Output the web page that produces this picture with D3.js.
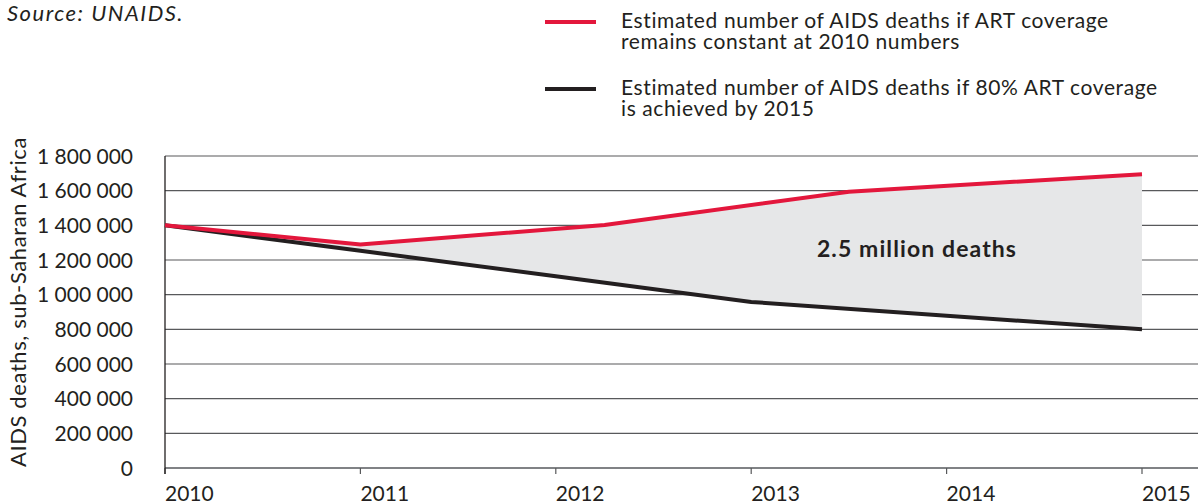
<!DOCTYPE html>
<html>
<head>
<meta charset="utf-8">
<script src="https://cdn.jsdelivr.net/npm/d3@7"></script>
<style>
  body { margin: 0; background: #fff; }
  svg text { font-family: "Lato", "Open Sans", sans-serif; fill: #231f20; }
</style>
</head>
<body>
<svg id="chart" width="1198" height="504"></svg>
<script>
// data
var blackYears = [2010, 2011, 2012, 2013, 2014, 2015]
var blackValues = [1400000, 1253000, 1106000, 958000, 879000, 800000]
var redYears = [2010, 2011, 2012.25, 2013.5, 2015]
var redValues = [1400000, 1290000, 1402000, 1594000, 1695000]
var yTicks = [0, 200000, 400000, 600000, 800000, 1000000, 1200000, 1400000, 1600000, 1800000]
var xTicks = [2010, 2011, 2012, 2013, 2014, 2015]
var legendLabels = [
    ["Estimated number of AIDS deaths if ART coverage", "remains constant at 2010 numbers"],
    ["Estimated number of AIDS deaths if 80% ART coverage", "is achieved by 2015"]
]
var legendColors = ["#e3173c", "#231f20"]

var svg = d3.select("#chart")

var x = d3.scaleLinear().domain([2010, 2015]).range([165, 1142])
var y = d3.scaleLinear().domain([0, 1800000]).range([468, 156])

var fmt = function (d) { return d3.format(",")(d).replace(/,/g, " ") }

// grid lines
svg.append("g")
    .selectAll("line")
    .data(yTicks.filter(function (d) { return d > 0 }))
    .enter()
    .append("line")
    .attr("x1", x(2010))
    .attr("x2", 1198)
    .attr("y1", function (d) { return y(d) })
    .attr("y2", function (d) { return y(d) })
    .style("stroke", "#58595b")
    .style("stroke-width", 1.2)

// shaded gap between the two scenarios
var redPts = redYears.map(function (d, i) { return [d, redValues[i]] })
var blackPts = blackYears.map(function (d, i) { return [d, blackValues[i]] })
var line = d3.line()
    .x(function (d) { return x(d[0]) })
    .y(function (d) { return y(d[1]) })

svg.append("path")
    .attr("d", line(redPts.concat(blackPts.slice().reverse())) + "Z")
    .style("fill", "#e6e7e8")

// y labels
svg.append("g")
    .selectAll("text")
    .data(yTicks)
    .enter()
    .append("text")
    .attr("x", 133)
    .attr("y", function (d) { return y(d) + 7.5 })
    .attr("text-anchor", "end")
    .style("font-size", "21px")
    .text(fmt)

// bottom axis
svg.append("line")
    .attr("x1", x(2010)).attr("x2", 1198)
    .attr("y1", y(0)).attr("y2", y(0))
    .style("stroke", "#808285")
    .style("stroke-width", 2)

svg.append("g")
    .selectAll("line")
    .data(xTicks)
    .enter()
    .append("line")
    .attr("x1", function (d) { return x(d) })
    .attr("x2", function (d) { return x(d) })
    .attr("y1", y(0))
    .attr("y2", y(0) + 6)
    .style("stroke", "#58595b")
    .style("stroke-width", 1.2)

svg.append("g")
    .selectAll("text")
    .data(xTicks)
    .enter()
    .append("text")
    .attr("x", function (d) { return x(d) })
    .attr("y", 501)
    .style("font-size", "21px")
    .text(function (d) { return d })

// left axis
svg.append("line")
    .attr("x1", x(2010)).attr("x2", x(2010))
    .attr("y1", y(1800000)).attr("y2", y(0) + 6)
    .style("stroke", "#231f20")
    .style("stroke-width", 1.3)

// scenario lines
svg.append("path")
    .attr("d", line(blackPts))
    .style("fill", "none")
    .style("stroke", legendColors[1])
    .style("stroke-width", 4)

svg.append("path")
    .attr("d", line(redPts))
    .style("fill", "none")
    .style("stroke", legendColors[0])
    .style("stroke-width", 4)

svg.append("text")
    .attr("x", 917)
    .attr("y", 257)
    .attr("text-anchor", "middle")
    .style("font-size", "23px")
    .style("font-weight", "bold")
    .style("letter-spacing", "1.1px")
    .text("2.5 million deaths")

// y title
svg.append("text")
    .attr("transform", "translate(26,302) rotate(-90)")
    .attr("text-anchor", "middle")
    .style("font-size", "22px")
    .style("letter-spacing", "0.6px")
    .text("AIDS deaths, sub-Saharan Africa")

// source
svg.append("text")
    .attr("x", 7)
    .attr("y", 21)
    .style("font-size", "22px")
    .style("font-style", "italic")
    .style("letter-spacing", "1.5px")
    .text("Source: UNAIDS.")

// legend
var leg = svg.append("g")
    .selectAll("g")
    .data(legendLabels)
    .enter()
    .append("g")
    .attr("transform", function (d, i) { return "translate(0," + (i * 67) + ")" })

leg.append("line")
    .attr("x1", 545).attr("x2", 596)
    .attr("y1", 22).attr("y2", 22)
    .style("stroke", function (d, i) { return legendColors[i] })
    .style("stroke-width", 4)

leg.selectAll("text")
    .data(function (d) { return d })
    .enter()
    .append("text")
    .attr("x", 621)
    .attr("y", function (d, j) { return 28 + j * 21 })
    .style("font-size", "21px")
    .style("letter-spacing", "0.6px")
    .text(function (d) { return d })
</script>
</body>
</html>
